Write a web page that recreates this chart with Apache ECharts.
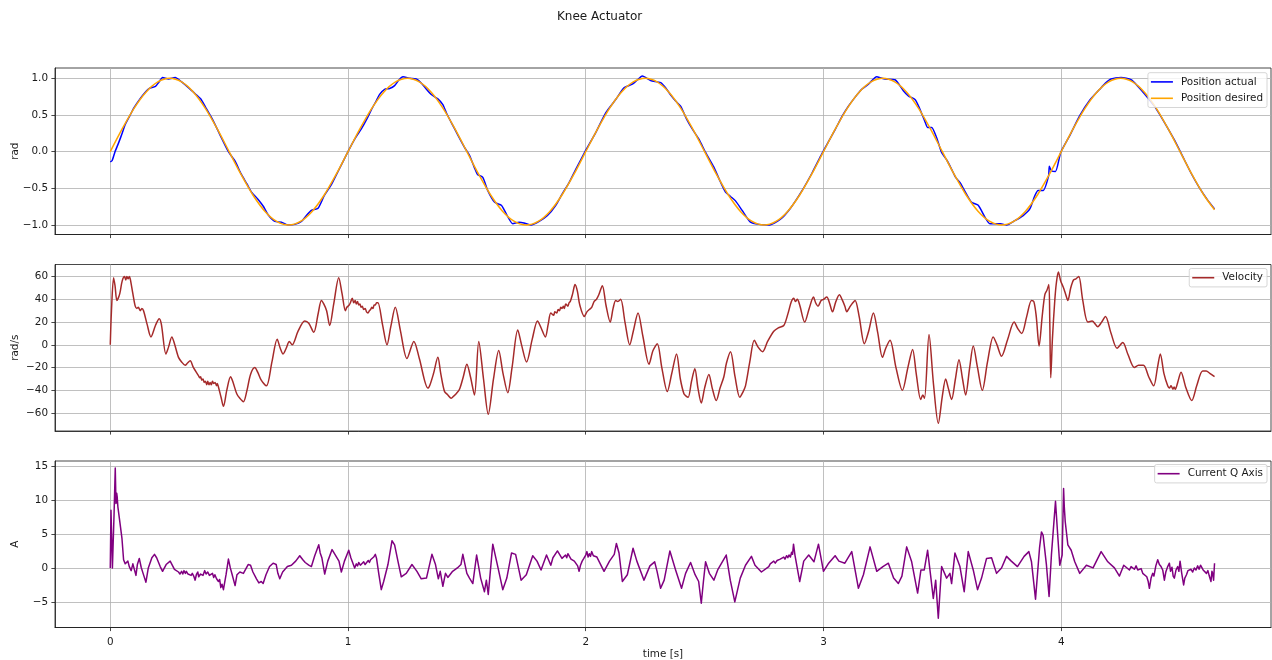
<!DOCTYPE html>
<html>
<head>
<meta charset="utf-8">
<title>Knee Actuator</title>
<script src="https://cdn.jsdelivr.net/npm/echarts@6/dist/echarts.min.js"></script>
<style>
  html, body { margin: 0; padding: 0; background: #ffffff; }
  #chart { width: 1272px; height: 660px; }
</style>
</head>
<body>
<div id="chart"></div>
<script>
// Knee actuator log: joint position (actual vs. desired), velocity and q-axis current over time.

// [time s, position rad]
const positionDesired = [
  [0.00,0.00],[0.05,0.31],[0.10,0.59],[0.15,0.81],[0.20,0.95],[0.25,1.00],[0.30,0.95],[0.35,0.81],[0.40,0.59],[0.45,0.31],
  [0.50,0.00],[0.55,-0.31],[0.60,-0.59],[0.65,-0.81],[0.70,-0.95],[0.75,-1.00],[0.80,-0.95],[0.85,-0.81],[0.90,-0.59],[0.95,-0.31],
  [1.00,0.00],[1.05,0.31],[1.10,0.59],[1.15,0.81],[1.20,0.95],[1.25,1.00],[1.30,0.95],[1.35,0.81],[1.40,0.59],[1.45,0.31],
  [1.50,0.00],[1.55,-0.31],[1.60,-0.59],[1.65,-0.81],[1.70,-0.95],[1.75,-1.00],[1.80,-0.95],[1.85,-0.81],[1.90,-0.59],[1.95,-0.31],
  [2.00,0.00],[2.05,0.31],[2.10,0.59],[2.15,0.81],[2.20,0.95],[2.25,1.00],[2.30,0.95],[2.35,0.81],[2.40,0.59],[2.45,0.31],
  [2.50,0.00],[2.55,-0.31],[2.60,-0.59],[2.65,-0.81],[2.70,-0.95],[2.75,-1.00],[2.80,-0.95],[2.85,-0.81],[2.90,-0.59],[2.95,-0.31],
  [3.00,0.00],[3.05,0.31],[3.10,0.59],[3.15,0.81],[3.20,0.95],[3.25,1.00],[3.30,0.95],[3.35,0.81],[3.40,0.59],[3.45,0.31],
  [3.50,0.00],[3.55,-0.31],[3.60,-0.59],[3.65,-0.81],[3.70,-0.95],[3.75,-1.00],[3.80,-0.95],[3.85,-0.81],[3.90,-0.59],[3.95,-0.31],
  [4.00,0.00],[4.05,0.31],[4.10,0.59],[4.15,0.81],[4.20,0.95],[4.25,1.00],[4.30,0.95],[4.35,0.81],[4.40,0.59],[4.45,0.31],
  [4.50,0.00],[4.55,-0.31],[4.60,-0.59],[4.645,-0.79]
];

// [time s, position rad]
const positionActual = [
  [0.000,-0.14],[0.008,-0.12],[0.020,0.00],[0.035,0.12],[0.050,0.25],[0.063,0.37],[0.084,0.50],[0.100,0.60],[0.125,0.72],[0.150,0.82],
  [0.163,0.86],[0.190,0.89],[0.205,0.95],[0.220,1.01],[0.245,0.99],[0.273,1.01],[0.300,0.95],[0.330,0.87],[0.357,0.79],[0.380,0.72],
  [0.400,0.61],[0.430,0.44],[0.460,0.24],[0.497,0.00],[0.525,-0.13],[0.550,-0.30],[0.575,-0.44],[0.594,-0.55],[0.622,-0.65],[0.645,-0.75],
  [0.664,-0.86],[0.692,-0.95],[0.720,-0.96],[0.748,-1.00],[0.776,-0.99],[0.804,-0.95],[0.825,-0.87],[0.846,-0.80],[0.874,-0.77],[0.900,-0.60],
  [0.930,-0.45],[0.958,-0.27],[1.000,0.00],[1.030,0.18],[1.056,0.31],[1.080,0.45],[1.098,0.57],[1.120,0.70],[1.133,0.78],[1.154,0.85],
  [1.175,0.86],[1.196,0.90],[1.215,0.98],[1.231,1.02],[1.260,1.00],[1.287,0.99],[1.310,0.93],[1.330,0.85],[1.350,0.78],[1.378,0.72],
  [1.399,0.64],[1.415,0.52],[1.434,0.40],[1.460,0.24],[1.490,0.06],[1.511,-0.05],[1.532,-0.22],[1.545,-0.31],[1.567,-0.35],[1.588,-0.53],
  [1.617,-0.69],[1.645,-0.73],[1.658,-0.80],[1.693,-0.98],[1.720,-0.96],[1.740,-0.97],[1.770,-1.00],[1.804,-0.95],[1.839,-0.87],[1.874,-0.73],
  [1.900,-0.58],[1.930,-0.42],[1.958,-0.24],[1.997,0.00],[2.042,0.26],[2.084,0.53],[2.126,0.71],[2.161,0.87],[2.196,0.92],[2.215,0.97],
  [2.238,1.03],[2.273,0.97],[2.315,0.94],[2.336,0.87],[2.360,0.76],[2.378,0.69],[2.399,0.62],[2.425,0.44],[2.448,0.31],[2.476,0.17],
  [2.504,-0.01],[2.539,-0.21],[2.565,-0.40],[2.588,-0.55],[2.609,-0.61],[2.630,-0.67],[2.658,-0.80],[2.693,-0.96],[2.728,-0.99],[2.770,-1.00],
  [2.819,-0.92],[2.861,-0.77],[2.910,-0.53],[2.952,-0.29],[2.993,-0.03],[3.020,0.13],[3.049,0.30],[3.080,0.49],[3.105,0.62],[3.130,0.73],
  [3.161,0.85],[3.189,0.92],[3.224,1.02],[3.245,1.00],[3.259,0.99],[3.301,0.98],[3.336,0.83],[3.357,0.76],[3.385,0.71],[3.400,0.62],
  [3.427,0.41],[3.438,0.33],[3.455,0.33],[3.476,0.19],[3.497,-0.01],[3.520,-0.12],[3.539,-0.24],[3.556,-0.35],[3.574,-0.42],[3.590,-0.51],
  [3.623,-0.69],[3.651,-0.73],[3.679,-0.89],[3.700,-0.98],[3.720,-0.98],[3.745,-0.98],[3.770,-1.00],[3.805,-0.94],[3.840,-0.87],[3.868,-0.78],
  [3.889,-0.60],[3.903,-0.53],[3.924,-0.53],[3.947,-0.33],[3.950,-0.20],[3.959,-0.26],[3.976,-0.27],[3.998,-0.01],[4.036,0.22],[4.078,0.49],
  [4.120,0.70],[4.162,0.85],[4.185,0.93],[4.210,0.99],[4.252,1.01],[4.294,0.98],[4.320,0.90],[4.350,0.79],[4.392,0.62],[4.434,0.40],
  [4.476,0.16],[4.518,-0.11],[4.546,-0.29],[4.581,-0.49],[4.616,-0.66],[4.645,-0.78]
];

// [time s, velocity rad/s]
const velocity = [
  [0.000,0],[0.005,30],[0.014,59],[0.020,52],[0.028,39],[0.040,45],[0.050,56],[0.060,60],[0.065,57],[0.070,60],
  [0.075,58],[0.080,60],[0.084,58],[0.095,45],[0.105,34],[0.112,32],[0.118,33],[0.126,30],[0.133,32],[0.140,30],
  [0.155,18],[0.171,7],[0.190,17],[0.206,23],[0.215,18],[0.234,-8],[0.245,-2],[0.259,7],[0.270,1],[0.287,-11],
  [0.300,-15],[0.315,-18],[0.325,-16],[0.336,-14],[0.350,-20],[0.371,-27],[0.376,-29],[0.380,-28],[0.385,-31],[0.390,-30],
  [0.395,-33],[0.400,-32],[0.406,-35],[0.410,-32],[0.415,-35],[0.420,-33],[0.425,-35],[0.430,-32],[0.435,-34],[0.441,-33],
  [0.447,-36],[0.450,-34],[0.455,-37],[0.466,-46],[0.476,-54],[0.490,-40],[0.506,-28],[0.515,-32],
  [0.532,-43],[0.545,-47],[0.560,-50],[0.575,-40],[0.590,-26],[0.608,-20],[0.620,-24],[0.635,-31],[0.657,-36],[0.680,-15],
  [0.702,5],[0.715,-3],[0.727,-8],[0.740,-3],[0.753,3],[0.765,0],[0.790,12],[0.818,21],[0.835,19],[0.856,11],
  [0.875,28],[0.888,39],[0.898,36],[0.910,30],[0.923,17],[0.940,36],[0.961,59],[0.975,45],[0.989,30],[0.995,33],
  [1.005,35],[1.010,37],[1.018,41],[1.024,37],[1.030,39],[1.035,36],[1.040,38],[1.045,35],[1.050,36],[1.055,33],
  [1.060,34],[1.066,31],[1.072,32],[1.078,29],[1.084,28],[1.090,30],[1.095,31],[1.100,33],[1.105,32],[1.110,35],
  [1.115,35],[1.120,37],[1.126,37],[1.145,18],[1.164,0],[1.180,16],[1.199,33],[1.220,13],[1.248,-12],[1.277,3],[1.300,-12],
  [1.336,-38],[1.345,-35],[1.360,-25],[1.378,-11],[1.390,-25],[1.406,-41],[1.420,-44],[1.434,-47],[1.445,-45],[1.455,-43],
  [1.469,-39],[1.485,-28],[1.500,-17],[1.515,-28],[1.532,-44],[1.550,3],[1.570,-30],[1.590,-61],[1.612,-30],[1.634,-5],
  [1.652,-25],[1.672,-42],[1.690,-20],[1.714,13],[1.730,0],[1.751,-15],[1.775,5],[1.797,21],[1.812,15],[1.830,7],
  [1.842,18],[1.853,28],[1.865,26],[1.870,29],[1.878,28],[1.884,31],[1.890,30],[1.895,33],[1.900,32],[1.906,34],
  [1.910,32],[1.916,36],[1.925,34],[1.930,37],[1.935,38],
  [1.945,45],[1.955,53],[1.965,47],[1.975,35],[1.994,25],[2.005,29],[2.015,31],[2.025,33],[2.035,38],[2.045,40],
  [2.055,44],[2.070,52],[2.085,35],[2.103,20],[2.115,32],[2.126,39],[2.135,38],[2.147,40],[2.165,20],[2.185,0],
  [2.200,12],[2.220,28],[2.240,8],[2.266,-17],[2.283,-5],[2.301,1],[2.320,-20],[2.343,-41],[2.362,-25],[2.382,-8],
  [2.398,-30],[2.413,-43],[2.422,-45],[2.431,-46],[2.445,-32],[2.459,-21],[2.472,-38],[2.486,-51],[2.500,-38],[2.518,-26],
  [2.532,-38],[2.549,-49],[2.565,-38],[2.581,-28],[2.592,-16],[2.609,-6],[2.628,-28],[2.648,-46],[2.660,-42],[2.672,-36],
  [2.690,-15],[2.709,4],[2.725,-2],[2.744,-6],[2.765,3],[2.791,12],[2.810,15],[2.833,17],[2.850,27],[2.865,38],
  [2.875,41],[2.882,38],[2.890,40],[2.900,35],[2.921,20],[2.940,32],[2.958,42],[2.967,37],[2.977,34],[2.990,39],
  [3.000,40],[3.014,42],[3.025,37],[3.038,29],[3.052,38],[3.067,44],[3.078,40],[3.090,34],[3.098,29],[3.110,33],
  [3.120,36],[3.133,39],[3.150,25],[3.172,1],[3.190,12],[3.210,28],[3.228,11],[3.248,-11],[3.262,-3],[3.280,4],
  [3.305,-20],[3.332,-40],[3.355,-20],[3.375,-4],[3.390,-25],[3.409,-48],[3.418,-44],[3.425,-47],[3.444,9],[3.463,-35],
  [3.483,-69],[3.500,-45],[3.514,-30],[3.525,-38],[3.539,-48],[3.555,-30],[3.570,-13],[3.585,-30],[3.598,-44],[3.615,-20],
  [3.630,-1],[3.648,-20],[3.668,-40],[3.690,-15],[3.714,7],[3.730,0],[3.749,-10],[3.775,5],[3.802,20],[3.818,14],
  [3.834,10],[3.855,25],[3.875,39],[3.885,38],[3.895,25],[3.907,-1],[3.920,25],[3.931,44],[3.940,48],[3.948,53],
  [3.952,20],[3.956,-29],[3.963,5],[3.973,39],[3.980,55],[3.988,64],[3.998,56],[4.008,51],[4.018,45],[4.028,39],
  [4.040,50],[4.052,57],[4.062,58],[4.074,60],[4.090,40],[4.112,20],[4.130,21],[4.154,16],[4.170,20],[4.186,25],
  [4.210,10],[4.235,-3],[4.259,2],[4.280,-8],[4.308,-20],[4.325,-18],[4.346,-18],[4.368,-28],[4.389,-36],[4.405,-20],
  [4.417,-8],[4.432,-25],[4.448,-36],[4.455,-38],[4.462,-36],[4.470,-39],[4.475,-37],[4.480,-39],[4.490,-33],[4.504,-24],
  [4.525,-38],[4.549,-49],[4.570,-36],[4.595,-23],[4.610,-23],[4.625,-25],[4.645,-28]
];

// [time s, current A]
const currentQ = [
  [0.000,0],[0.003,8.5],[0.007,8.3],[0.009,0],[0.013,0],[0.016,8],[0.021,14.7],[0.024,9.5],[0.027,11],[0.029,10.5],
  [0.032,9],[0.035,8.8],[0.042,6.3],[0.049,4.4],[0.056,1.2],[0.063,0.6],[0.068,0.8],[0.074,1.0],[0.080,0.2],[0.088,-0.4],
  [0.095,0.6],[0.100,0.7],[0.108,-1.1],[0.114,0.5],[0.122,1.4],[0.130,0.1],[0.138,-0.8],[0.150,-2.1],[0.160,0],[0.175,1.5],
  [0.186,2.0],[0.195,1.5],[0.210,0.2],[0.220,-0.5],[0.235,0.5],[0.252,1.0],[0.270,-0.2],[0.287,-0.6],[0.293,-0.9],[0.300,-0.5],
  [0.305,-0.9],[0.310,-0.4],[0.316,-0.8],[0.320,-0.5],[0.327,-0.9],[0.335,-0.7],[0.340,-1.1],[0.345,-0.8],[0.351,-1.2],[0.357,-1.8],
  [0.362,-1.0],[0.368,-0.6],[0.372,-1.3],[0.376,-1.5],[0.380,-0.9],[0.385,-0.7],[0.390,-1.1],[0.397,-0.4],[0.403,-0.9],[0.410,-0.6],
  [0.417,-1.1],[0.425,-1.3],[0.430,-0.8],[0.435,-1.4],[0.440,-1.0],[0.447,-1.6],[0.455,-2.0],[0.460,-1.7],[0.465,-2.9],[0.470,-2.4],
  [0.476,-3.2],[0.487,-1.0],[0.497,1.3],[0.505,0],[0.512,-0.9],[0.525,-2.6],[0.533,-1.0],
  [0.545,-0.6],[0.560,-0.8],[0.580,0.5],[0.590,0.4],[0.600,-0.6],[0.615,-1.6],[0.625,-2.2],[0.635,-2.0],[0.643,-2.3],[0.655,-1.0],
  [0.670,0.2],[0.685,0.7],[0.698,0.5],[0.705,-0.8],[0.713,-1.6],[0.725,-0.6],[0.745,0.2],[0.762,0.4],[0.780,1.0],[0.797,1.8],
  [0.810,1.2],[0.820,0.8],[0.835,0.4],[0.846,0.2],[0.860,1.8],[0.877,3.4],[0.883,2.2],[0.890,1.5],[0.902,-0.9],[0.915,1.0],
  [0.933,2.7],[0.945,2.0],[0.953,2.2],[0.962,1.0],[0.972,-0.6],[0.985,1.0],[1.003,2.6],[1.012,1.5],[1.028,0],[1.035,0.6],
  [1.040,0.3],[1.045,0.8],[1.052,0.4],[1.060,0.5],[1.066,0.9],[1.072,0.5],[1.078,0.7],[1.085,1.1],[1.090,0.8],[1.095,1.2],
  [1.102,1.0],[1.108,1.6],[1.115,2.0],[1.120,1.4],[1.130,-1.0],[1.140,-3.2],[1.150,-2.0],[1.168,0.5],[1.185,4.0],
  [1.196,3.4],[1.210,1.0],[1.224,-1.3],[1.245,-0.8],[1.269,0.5],[1.290,-0.5],[1.308,-1.6],[1.330,-1.5],[1.353,2.0],[1.368,0.5],
  [1.380,-1.6],[1.388,-0.5],[1.399,-2.7],[1.410,-0.8],[1.420,-1.4],[1.440,-0.5],[1.460,0],[1.475,0.5],[1.483,2.0],[1.500,-0.8],
  [1.511,-1.5],[1.525,-2.3],[1.541,1.9],[1.558,-1.5],[1.574,-3.5],[1.582,-1.8],[1.590,-3.9],[1.609,3.5],[1.630,0.2],[1.651,-3.2],
  [1.668,-1.5],[1.688,2.2],[1.705,2.0],[1.728,-1.8],[1.750,-1.0],[1.777,1.8],[1.795,1.0],[1.812,-0.3],[1.835,1.9],[1.853,0.4],
  [1.862,1.5],[1.881,2.5],[1.900,1.4],[1.915,1.9],[1.920,1.5],[1.925,2.1],[1.931,1.9],[1.938,1.3],[1.945,1.5],[1.952,1.0],
  [1.960,0.8],[1.966,0.3],[1.972,-0.5],[1.978,0.4],[1.985,1.0],[1.992,1.4],[2.000,1.9],[2.005,2.4],[2.010,1.6],[2.015,2.1],
  [2.020,1.7],[2.025,2.4],[2.032,1.8],[2.040,2.0],[2.047,1.6],[2.055,1.4],[2.077,-0.5],[2.100,1.0],[2.120,2.0],[2.129,3.6],[2.140,2.2],
  [2.154,-2.0],[2.175,-1.0],[2.199,2.9],[2.215,1.0],[2.245,-1.8],[2.270,0.3],[2.290,0.9],[2.300,-0.5],[2.315,-3.0],[2.330,-1.8],
  [2.354,2.5],[2.378,-0.3],[2.403,-3.0],[2.420,-0.8],[2.441,0.8],[2.460,-1.0],[2.475,-2.0],[2.486,-5.2],[2.495,-2.0],[2.504,0.9],
  [2.520,-0.8],[2.539,-1.8],[2.555,-0.3],[2.591,1.9],[2.608,-1.8],[2.627,-5.0],[2.650,-1.5],[2.672,0.4],[2.697,1.7],[2.712,0.4],
  [2.739,-0.6],[2.770,0.2],[2.776,0.6],[2.782,0.5],[2.791,1.0],[2.797,0.7],[2.805,1.1],[2.812,0.9],[2.818,1.3],[2.825,1.1],
  [2.833,1.6],[2.838,1.3],[2.845,1.8],[2.850,1.5],[2.855,1.9],[2.861,1.6],[2.866,2.3],[2.870,2.0],[2.874,3.5],[2.880,1.9],[2.900,-2.0],
  [2.917,1.0],[2.938,1.9],[2.960,0.9],[2.968,2.0],[2.979,3.5],[3.000,-0.5],[3.020,0.6],[3.049,1.8],[3.065,1.0],[3.090,0.7],
  [3.119,2.4],[3.147,-3.0],[3.168,-1.0],[3.196,3.1],[3.224,-0.5],[3.250,0.2],[3.273,0.7],[3.295,-1.5],[3.315,-2.3],[3.330,-1.2],
  [3.350,3.1],[3.371,0.9],[3.396,-3.7],[3.410,-0.3],[3.424,-0.3],[3.438,2.6],[3.452,-1.5],[3.462,-4.5],[3.472,-1.8],[3.483,-7.4],
  [3.497,0.2],[3.518,-1.5],[3.532,-0.8],[3.539,-2.3],[3.553,2.2],[3.574,0.2],[3.592,-3.5],[3.609,2.4],[3.630,-0.3],[3.648,-3.2],
  [3.665,-1.5],[3.686,1.4],[3.707,1.5],[3.728,-0.8],[3.749,0],[3.770,1.7],[3.790,1.0],[3.816,0.2],[3.844,1.7],[3.864,2.4],
  [3.875,0.9],[3.892,-4.6],[3.909,3.0],[3.917,5.3],[3.924,4.8],[3.938,0.4],[3.949,-4.2],[3.959,2.0],[3.976,9.8],[3.985,5.0],
  [3.994,0.4],[4.004,1.9],[4.010,11.7],[4.013,9.0],[4.017,6.8],[4.028,3.4],[4.042,2.6],[4.057,0.9],[4.078,-0.8],[4.106,0.4],
  [4.134,0],[4.168,2.4],[4.196,0.9],[4.224,0],[4.245,-1.2],[4.263,0.4],[4.287,-0.3],[4.294,0.2],[4.301,0.4],[4.308,-0.2],
  [4.315,0.3],[4.322,-0.3],[4.330,-0.5],[4.336,-0.1],[4.343,-0.8],[4.350,-1.0],[4.360,-1.3],[4.366,-2.0],[4.371,-3.0],[4.378,-1.5],
  [4.385,-0.8],[4.390,-1.2],[4.398,0.3],[4.406,1.2],[4.413,0.5],[4.420,0.2],[4.427,-0.3],[4.434,-1.8],[4.440,-0.6],[4.448,0.2],
  [4.455,0.7],[4.460,-0.5],[4.466,0.1],[4.471,-1.2],[4.476,-1.5],[4.483,-0.3],[4.490,0.2],[4.495,-0.5],[4.500,1.0],[4.507,-0.8],
  [4.515,-2.5],[4.520,-1.5],[4.527,-1.0],[4.533,-0.4],[4.539,-0.6],[4.546,-0.2],[4.553,-0.6],[4.560,0],[4.567,-0.3],[4.574,0.3],
  [4.580,-0.2],[4.586,0.4],[4.590,0.2],[4.597,-0.3],[4.604,-0.1],[4.611,-0.8],[4.617,-0.4],[4.623,-1.2],[4.630,-2.0],[4.634,-0.5],
  [4.637,-0.8],[4.641,-1.8],[4.645,0.7]
];

// Tick positions for each axis
const timeTicks = [0, 1, 2, 3, 4];
const positionTicks = [-1.0, -0.5, 0.0, 0.5, 1.0];
const velocityTicks = [-60, -40, -20, 0, 20, 40, 60];
const currentTicks = [-5, 0, 5, 10, 15];

const FONT = 'DejaVu Sans';
const TICK_FS = 10.4;
const INK = '#1a1a1a';

const chart = echarts.init(document.getElementById('chart'), null, { renderer: 'canvas' });

const minus = v => String(v).replace('-', '\u2212');

const panels = [
  { top: 68,    yName: 'rad',   min: -1.128, max: 1.14,  ticks: positionTicks, fmt: v => minus(v.toFixed(1)) },
  { top: 264.5, yName: 'rad/s', min: -75.7,  max: 70.6,  ticks: velocityTicks, fmt: v => minus(v) },
  { top: 461,   yName: 'A',     min: -8.77,  max: 15.74, ticks: currentTicks,  fmt: v => minus(v) }
];
const PANEL_H = 166.5;

const grids = panels.map(p => ({
  left: 55, right: 1, top: p.top, height: PANEL_H,
  containLabel: false, outerBoundsMode: 'none',
  show: true, borderColor: INK, borderWidth: 0.8, backgroundColor: 'transparent'
}));

const xAxes = panels.map((p, i) => ({
  type: 'value', gridIndex: i, min: -0.2325, max: 4.8825,
  axisLine: { show: true, onZero: false, lineStyle: { color: INK, width: 0.8 } },
  axisTick: { show: true, customValues: timeTicks, length: 3.6, lineStyle: { color: INK, width: 0.8 } },
  axisLabel: {
    show: i === 2, customValues: timeTicks, margin: 9.5, color: INK,
    fontFamily: FONT, fontSize: TICK_FS, formatter: v => String(v)
  },
  splitLine: { show: true, lineStyle: { color: '#b0b0b0', width: 0.8 } },
  name: i === 2 ? 'time [s]' : '',
  nameLocation: 'middle', nameGap: 22, nameMoveOverlap: false,
  nameTextStyle: { fontFamily: FONT, fontSize: TICK_FS, color: INK }
}));

const yAxes = panels.map((p, i) => ({
  type: 'value', gridIndex: i, min: p.min, max: p.max,
  axisLine: { show: true, onZero: false, lineStyle: { color: INK, width: 0.8 } },
  axisTick: { show: true, customValues: p.ticks, length: 3.6, lineStyle: { color: INK, width: 0.8 } },
  axisLabel: {
    customValues: p.ticks, margin: 7, color: INK,
    fontFamily: FONT, fontSize: TICK_FS, formatter: p.fmt
  },
  splitLine: { show: true, lineStyle: { color: '#b0b0b0', width: 0.8 } },
  name: p.yName, nameLocation: 'middle', nameGap: 35, nameRotate: 90, nameMoveOverlap: false,
  nameTextStyle: { fontFamily: FONT, fontSize: TICK_FS, color: INK }
}));

const lineSeries = (name, data, color, idx, extra) => Object.assign({
  name, type: 'line', data, xAxisIndex: idx, yAxisIndex: idx,
  showSymbol: false, symbol: 'none', animation: false,
  lineStyle: { color, width: 1.5, join: 'round' }, itemStyle: { color },
  emphasis: { disabled: true }
}, extra || {});

const legendBase = (names, top) => ({
  data: names, orient: 'vertical', right: 5, top,
  icon: 'rect', itemWidth: 22, itemHeight: 1.6, itemGap: 4,
  padding: [3, 4, 3, 3],
  backgroundColor: 'rgba(255,255,255,0.8)', borderColor: '#cccccc', borderWidth: 0.8, borderRadius: 2,
  textStyle: { fontFamily: FONT, fontSize: TICK_FS, color: INK, lineHeight: 12.4, padding: [0, 0, 0, 3] },
  selectedMode: false
});

chart.setOption({
  animation: false,
  backgroundColor: '#ffffff',
  title: {
    text: 'Knee Actuator', left: 557, top: 11, padding: 0,
    textStyle: { fontFamily: FONT, fontSize: 12, fontWeight: 'normal', color: INK }
  },
  grid: grids,
  xAxis: xAxes,
  yAxis: yAxes,
  legend: [
    legendBase(['Position actual', 'Position desired'], 72.7),
    legendBase(['Velocity'], 268.5),
    legendBase(['Current Q Axis'], 464.5)
  ],
  series: [
    lineSeries('Position actual', positionActual, '#0000ff', 0, { smooth: 0.2 }),
    lineSeries('Position desired', positionDesired, '#ffa500', 0, { smooth: 0.3 }),
    lineSeries('Velocity', velocity, '#a52a2a', 1, { smooth: 0.3 }),
    lineSeries('Current Q Axis', currentQ, '#800080', 2)
  ]
});
</script>
</body>
</html>
